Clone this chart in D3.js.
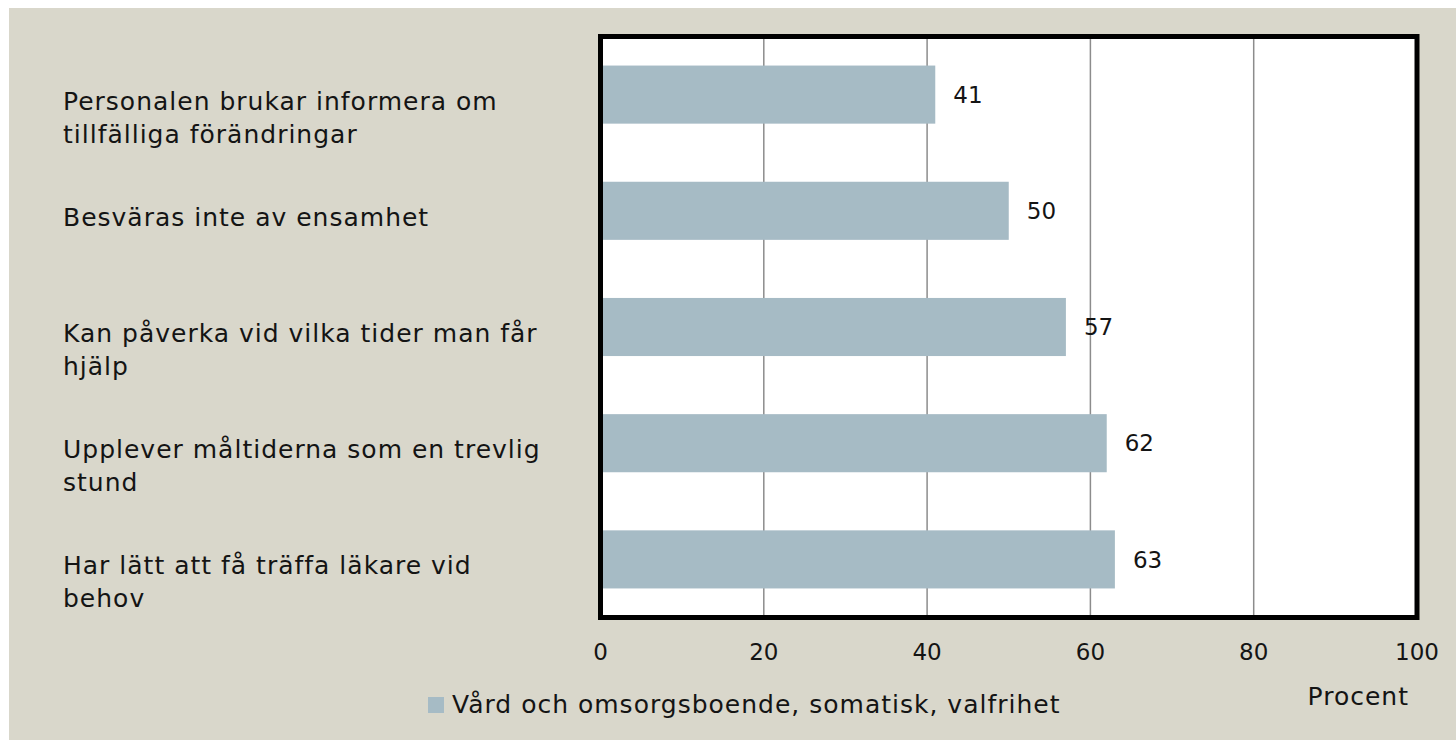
<!DOCTYPE html>
<html>
<head>
<meta charset="utf-8">
<script src="https://cdn.jsdelivr.net/npm/d3@7"></script>
<style>
  body { margin: 0; background: #ffffff; }
  svg text { font-family: "DejaVu Sans", sans-serif; fill: #141414; }
  svg text.wide { letter-spacing: 1px; }
</style>
</head>
<body>
<svg id="chart" width="1456" height="740"></svg>
<script>
var categories = [
  ["Personalen brukar informera om", "tillfälliga förändringar"],
  ["Besväras inte av ensamhet"],
  ["Kan påverka vid vilka tider man får", "hjälp"],
  ["Upplever måltiderna som en trevlig", "stund"],
  ["Har lätt att få träffa läkare vid", "behov"]
];
var values = [41, 50, 57, 62, 63];
var ticks = [0, 20, 40, 60, 80, 100];
var seriesName = "Vård och omsorgsboende, somatisk, valfrihet";
var axisTitle = "Procent";

var svg = d3.select("#chart");
var textSize = 25, numSize = 23;

// bakgrund
svg.append("rect").attr("x", 9).attr("y", 8).attr("width", 1456 - 9).attr("height", 740 - 8)
  .attr("fill", "#d9d7cb");

var plot = { left: 600.5, right: 1417, top: 36.5, bottom: 617.5 };

var x = d3.scaleLinear().domain([0, 100]).range([plot.left, plot.right]);
var y = d3.scaleBand().domain(d3.range(categories.length)).range([plot.top, plot.bottom]).paddingInner(0.5).paddingOuter(0.25);

svg.append("rect").attr("x", plot.left).attr("y", plot.top)
  .attr("width", plot.right - plot.left).attr("height", plot.bottom - plot.top)
  .attr("fill", "#ffffff");

// rutnät
svg.append("g").selectAll("line").data(ticks.slice(1, -1)).enter().append("line")
  .attr("x1", function (d) { return x(d); }).attr("x2", function (d) { return x(d); })
  .attr("y1", plot.top).attr("y2", plot.bottom)
  .attr("stroke", "#8c8c8c").attr("stroke-width", 1.5);

// staplar
svg.append("g").selectAll("rect").data(values).enter().append("rect")
  .attr("x", x(0))
  .attr("y", function (d, i) { return y(i); })
  .attr("width", function (d) { return x(d) - x(0); })
  .attr("height", y.bandwidth())
  .attr("fill", "#a6bbc5");

svg.append("g").selectAll("text").data(values).enter().append("text")
  .attr("x", function (d) { return x(d) + 18; })
  .attr("y", function (d, i) { return y(i) + y.bandwidth() / 2; })
  .attr("dy", "0.36em")
  .attr("font-size", numSize)
  .text(function (d) { return d; });

// ram
svg.append("rect").attr("x", plot.left).attr("y", plot.top)
  .attr("width", plot.right - plot.left).attr("height", plot.bottom - plot.top)
  .attr("fill", "none").attr("stroke", "#000").attr("stroke-width", 5);

// kategorietiketter
var labels = svg.append("g").selectAll("text").data(categories).enter().append("text")
  .attr("class", "wide")
  .attr("x", 63)
  .attr("y", function (d, i) { return y(i) + y.bandwidth() / 2 + 15; })
  .attr("font-size", textSize);
labels.selectAll("tspan").data(function (d) { return d; }).enter().append("tspan")
  .attr("x", 63)
  .attr("dy", function (d, j) { return j === 0 ? 0 : 33; })
  .text(function (d) { return d; });

// x-axel
svg.append("g").selectAll("text").data(ticks).enter().append("text")
  .attr("x", function (d) { return x(d); })
  .attr("y", 660)
  .attr("text-anchor", "middle")
  .attr("font-size", numSize)
  .text(function (d) { return d; });

svg.append("text").attr("class", "wide").attr("x", 1409).attr("y", 705).attr("text-anchor", "end")
  .attr("font-size", textSize).text(axisTitle);

// legend
svg.append("rect").attr("x", 428).attr("y", 697).attr("width", 16).attr("height", 16)
  .attr("fill", "#a6bbc5");
svg.append("text").attr("class", "wide").attr("x", 452).attr("y", 713).attr("font-size", textSize).text(seriesName);
</script>
</body>
</html>
